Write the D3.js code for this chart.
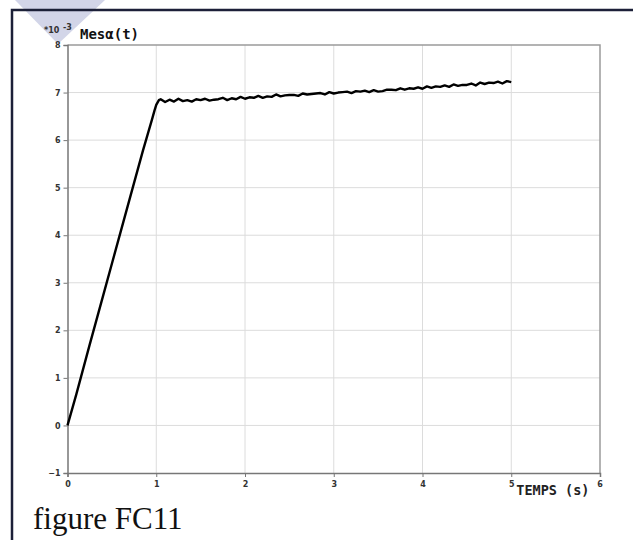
<!DOCTYPE html>
<html>
<head>
<meta charset="utf-8">
<script src="https://cdn.jsdelivr.net/npm/d3@7"></script>
<style>
  body { margin: 0; background: #fff; }
  svg { display: block; }
</style>
</head>
<body>
<div id="chart"></div>
<script>
// ramp part (t in s, value in 1e-3)
const rampTimes  = [0, 0.1, 0.25, 0.4, 0.5, 0.6, 0.75, 0.85, 0.9, 0.95, 0.98, 1.0, 1.03];
const rampValues = [0, 0.66, 1.7, 2.72, 3.4, 4.08, 5.1, 5.78, 6.1, 6.42, 6.62, 6.74, 6.84];

// noisy plateau
const flatTimes = [
  1.05, 1.10, 1.15, 1.20, 1.25, 1.30, 1.35, 1.40, 1.45, 1.50,
  1.55, 1.60, 1.65, 1.70, 1.75, 1.80, 1.85, 1.90, 1.95, 2.00,
  2.05, 2.10, 2.15, 2.20, 2.25, 2.30, 2.35, 2.40, 2.45, 2.50,
  2.55, 2.60, 2.65, 2.70, 2.75, 2.80, 2.85, 2.90, 2.95, 3.00,
  3.05, 3.10, 3.15, 3.20, 3.25, 3.30, 3.35, 3.40, 3.45, 3.50,
  3.55, 3.60, 3.65, 3.70, 3.75, 3.80, 3.85, 3.90, 3.95, 4.00,
  4.05, 4.10, 4.15, 4.20, 4.25, 4.30, 4.35, 4.40, 4.45, 4.50,
  4.55, 4.60, 4.65, 4.70, 4.75, 4.80, 4.85, 4.90, 4.95, 5.00
];
const flatValues = [
  6.86, 6.80, 6.85, 6.81, 6.87, 6.82, 6.84, 6.81, 6.86, 6.84,
  6.87, 6.83, 6.85, 6.86, 6.89, 6.84, 6.88, 6.86, 6.91, 6.87,
  6.90, 6.89, 6.93, 6.89, 6.92, 6.91, 6.96, 6.92, 6.94, 6.95,
  6.95, 6.93, 6.98, 6.96, 6.97, 6.98, 6.99, 6.96, 7.01, 6.98,
  7.00, 7.01, 7.02, 6.99, 7.03, 7.02, 7.04, 7.01, 7.05, 7.02,
  7.03, 7.06, 7.06, 7.05, 7.09, 7.06, 7.09, 7.08, 7.11, 7.08,
  7.13, 7.10, 7.13, 7.12, 7.15, 7.12, 7.17, 7.14, 7.16, 7.16,
  7.19, 7.15, 7.21, 7.18, 7.21, 7.20, 7.23, 7.19, 7.24, 7.22
];

const xTicks = [0, 1, 2, 3, 4, 5, 6];
const yTicks = [-1, 0, 1, 2, 3, 4, 5, 6, 7, 8];

const W = 633, H = 540;
const m = { left: 67.5, right: 33, top: 45, bottom: 67 };

const svg = d3.select("#chart").append("svg")
  .attr("width", W)
  .attr("height", H);

// watermark triangle + page frame
svg.append("path")
  .attr("d", "M15,0 L105,0 L58,44 Z")
  .attr("fill", "#d2d5e8");

svg.append("path")
  .attr("d", `M12,${H} L12,10 L${W},10`)
  .attr("fill", "none")
  .attr("stroke", "#1c2038")
  .attr("stroke-width", 2.5);

const x = d3.scaleLinear().domain([0, 6]).range([m.left, W - m.right]);
const y = d3.scaleLinear().domain([-1, 8]).range([H - m.bottom, m.top]);

// grid
svg.append("g")
  .selectAll("line.gx")
  .data(xTicks.slice(1, -1))
  .join("line")
    .attr("x1", d => x(d)).attr("x2", d => x(d))
    .attr("y1", y(8)).attr("y2", y(-1))
    .attr("stroke", "#dcdcdc");

svg.append("g")
  .selectAll("line.gy")
  .data(yTicks.slice(1, -1))
  .join("line")
    .attr("x1", x(0)).attr("x2", x(6))
    .attr("y1", d => y(d)).attr("y2", d => y(d))
    .attr("stroke", "#dcdcdc");

// plot box top/right
svg.append("path")
  .attr("d", `M${x(0)},${y(8)} L${x(6)},${y(8)} L${x(6)},${y(-1)}`)
  .attr("fill", "none")
  .attr("stroke", "#9a9a9a")
  .attr("stroke-width", 1.5);

// axes
const xAxis = svg.append("g")
  .attr("transform", `translate(0,${y(-1)})`)
  .call(d3.axisBottom(x).tickValues(xTicks).tickSize(4).tickFormat(d => d === 6 ? "" : d));
const yAxis = svg.append("g")
  .attr("transform", `translate(${x(0)},0)`)
  .call(d3.axisLeft(y).tickValues(yTicks).tickSize(4).tickPadding(3).tickFormat(d3.format("d")));

[xAxis, yAxis].forEach(a => {
  a.select(".domain").attr("stroke", "#777").attr("stroke-width", 1.5);
  a.selectAll(".tick line").attr("stroke", "#777");
  a.selectAll("text")
    .attr("fill", "#333")
    .style("font-family", "Verdana, 'DejaVu Sans', sans-serif")
    .style("font-weight", "bold")
    .style("font-size", "8px");
});
xAxis.selectAll("text").attr("dy", "0.9em");

// "6" and axis title next to the end ticks
svg.append("text")
  .attr("x", x(6)).attr("y", y(-1) + 14)
  .attr("text-anchor", "middle")
  .attr("fill", "#333")
  .style("font", "bold 8px 'DejaVu Sans', sans-serif")
  .text("6");

svg.append("text")
  .attr("x", x(5) + 5).attr("y", y(-1) + 22)
  .attr("fill", "#222")
  .style("font", "bold 13.5px 'DejaVu Sans Mono', monospace")
  .text("TEMPS (s)");

// y title
svg.append("text")
  .attr("x", 44).attr("y", 33)
  .attr("fill", "#333")
  .style("font", "bold 8px 'DejaVu Sans', sans-serif")
  .text("*10");
svg.append("text")
  .attr("x", 63).attr("y", 30)
  .attr("fill", "#333")
  .style("font", "bold 8px 'DejaVu Sans', sans-serif")
  .text("-3");
svg.append("text")
  .attr("x", 80).attr("y", 39)
  .attr("fill", "#111")
  .style("font", "bold 14px 'DejaVu Sans Mono', monospace")
  .text("Mesα(t)");

// curve
const pts = rampTimes.map((t, i) => [t, rampValues[i]])
  .concat(flatTimes.map((t, i) => [t, flatValues[i]]));

svg.append("path")
  .datum(pts)
  .attr("fill", "none")
  .attr("stroke", "#000")
  .attr("stroke-width", 2.4)
  .attr("stroke-linejoin", "round")
  .attr("d", d3.line().x(d => x(d[0])).y(d => y(d[1])));

// caption
svg.append("text")
  .attr("x", 33).attr("y", 529)
  .attr("fill", "#111")
  .style("font", "31px 'Liberation Serif', 'Times New Roman', serif")
  .text("figure FC11");
</script>
</body>
</html>
